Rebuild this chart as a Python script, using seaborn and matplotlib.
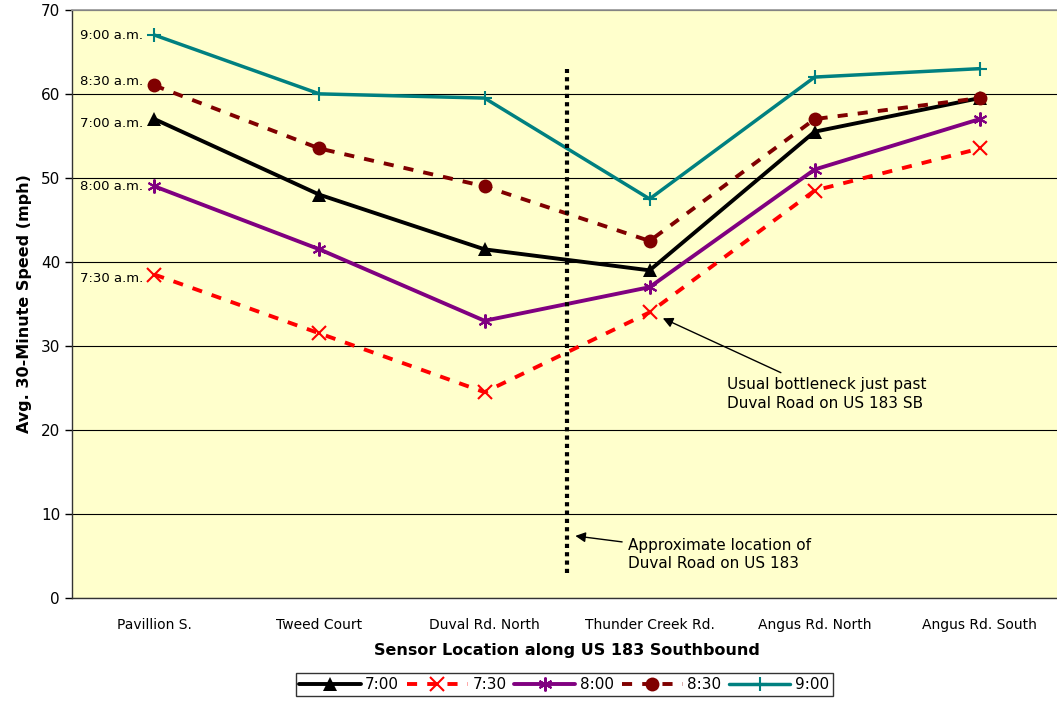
import numpy as np
import pandas as pd
import matplotlib
matplotlib.use("Agg")
import matplotlib.pyplot as plt
import seaborn as sns

sns.set_theme(style="white")
plt.rcParams["font.family"] = ["DejaVu Sans"]
plt.rcParams["text.color"] = "black"
plt.rcParams["axes.labelcolor"] = "black"
plt.rcParams["xtick.color"] = "black"
plt.rcParams["ytick.color"] = "black"

# -------------------------------------------------------
# data
# -------------------------------------------------------
locations = ["Pavillion S.", "Tweed Court", "Duval Rd. North",
             "Thunder Creek Rd.", "Angus Rd. North", "Angus Rd. South"]

times = ["7:00", "7:30", "8:00", "8:30", "9:00"]

speed_700 = [57.0, 48.0, 41.5, 39.0, 55.5, 59.5]
speed_730 = [38.5, 31.5, 24.5, 34.0, 48.5, 53.5]
speed_800 = [49.0, 41.5, 33.0, 37.0, 51.0, 57.0]
speed_830 = [61.0, 53.5, 49.0, 42.5, 57.0, 59.5]
speed_900 = [67.0, 60.0, 59.5, 47.5, 62.0, 63.0]

left_labels = ["7:00 a.m.", "7:30 a.m.", "8:00 a.m.", "8:30 a.m.", "9:00 a.m."]
left_label_y = [56.5, 38.0, 49.0, 61.5, 67.0]

all_speeds = [speed_700, speed_730, speed_800, speed_830, speed_900]

df = pd.DataFrame({
    "pos": np.tile(np.arange(len(locations)), len(times)),
    "location": locations * len(times),
    "time": np.repeat(times, len(locations)),
    "speed": np.concatenate(all_speeds),
})

# style per series (excel-ish look)
colors  = {"7:00": "#000000", "7:30": "#FF0000", "8:00": "#800080",
           "8:30": "#800000", "9:00": "#008080"}
markers = {"7:00": "^", "7:30": "x", "8:00": (6, 2, 0),
           "8:30": "o", "9:00": "+"}
dashed  = {"7:00": False, "7:30": True, "8:00": False,
           "8:30": True, "9:00": False}

# -------------------------------------------------------
# figure
# -------------------------------------------------------
fig = plt.figure(figsize=(10.57, 7.02), dpi=100)
ax = fig.add_axes([0.068, 0.148, 0.937, 0.838])
ax.set_facecolor("#FFFFCC")

for t in times:
    sub = df[df["time"] == t]
    line_art = t in ("7:30", "8:00", "9:00")
    sns.lineplot(data=sub, x="pos", y="speed", ax=ax,
                 color=colors[t], linewidth=2.8 if t != "9:00" else 2.5,
                 label=t, marker=markers[t],
                 markersize=10,
                 markeredgewidth=1.5 if line_art else 0,
                 markeredgecolor=colors[t], zorder=3)
    line = ax.get_lines()[-1]
    if dashed[t]:
        line.set_dashes([2.6, 2.6])

# left-hand labels
for lab, yv in zip(left_labels, left_label_y):
    ax.text(-0.07, yv, lab, ha="right", va="center", fontsize=9.5)

# vertical dotted line for Duval Road
ax.vlines(2.5, 3, 63, colors="black", linestyles=(0, (1, 1)), linewidth=3, zorder=4)

ax.annotate("Usual bottleneck just past\nDuval Road on US 183 SB",
            xy=(3.08, 33.3), xytext=(3.47, 24.3),
            fontsize=11, ha="left", va="center", linespacing=1.3,
            arrowprops=dict(arrowstyle="-|>", color="black", lw=1,
                            mutation_scale=15, shrinkA=2, shrinkB=0))
ax.annotate("Approximate location of\nDuval Road on US 183",
            xy=(2.55, 7.4), xytext=(2.87, 5.2),
            fontsize=11, ha="left", va="center", linespacing=1.3,
            arrowprops=dict(arrowstyle="-|>", color="black", lw=1,
                            mutation_scale=15, shrinkA=2, shrinkB=0))

# axes
ax.set_xlim(-0.5, 5.5)
ax.set_ylim(0, 70)
ax.set_yticks(np.arange(0, 71, 10))
ax.yaxis.grid(True, color="black", linewidth=0.8)
ax.xaxis.grid(False)
ax.set_axisbelow(True)

ax.set_xticks(np.arange(len(locations)))
ax.set_xticklabels(locations, fontsize=10)
ax.set_xticks(np.arange(-0.5, 5.6, 1), minor=True)
ax.tick_params(axis="x", which="major", length=0, pad=14)
ax.tick_params(axis="x", which="minor", length=5, width=1, color="black", direction="out")
ax.tick_params(axis="y", length=5, width=1, color="black", direction="out",
               labelsize=11, left=True)

for side in ["left", "bottom"]:
    ax.spines[side].set_color("#333333")
    ax.spines[side].set_linewidth(1)
ax.spines["top"].set_color("#999999")
ax.spines["right"].set_visible(False)

ax.set_xlabel("Sensor Location along US 183 Southbound", fontsize=11.5,
              fontweight="bold", labelpad=8)
ax.set_ylabel("Avg. 30-Minute Speed (mph)", fontsize=11.5, fontweight="bold",
              labelpad=6)

leg = ax.legend(loc="upper center", bbox_to_anchor=(0.497, -0.128), ncol=5,
                frameon=True, fancybox=False, edgecolor="black",
                fontsize=11, handlelength=4, handletextpad=0.3,
                columnspacing=0.5, borderpad=0.25, borderaxespad=0)
leg.get_frame().set_linewidth(1)

fig.savefig("out.png", dpi=100)
